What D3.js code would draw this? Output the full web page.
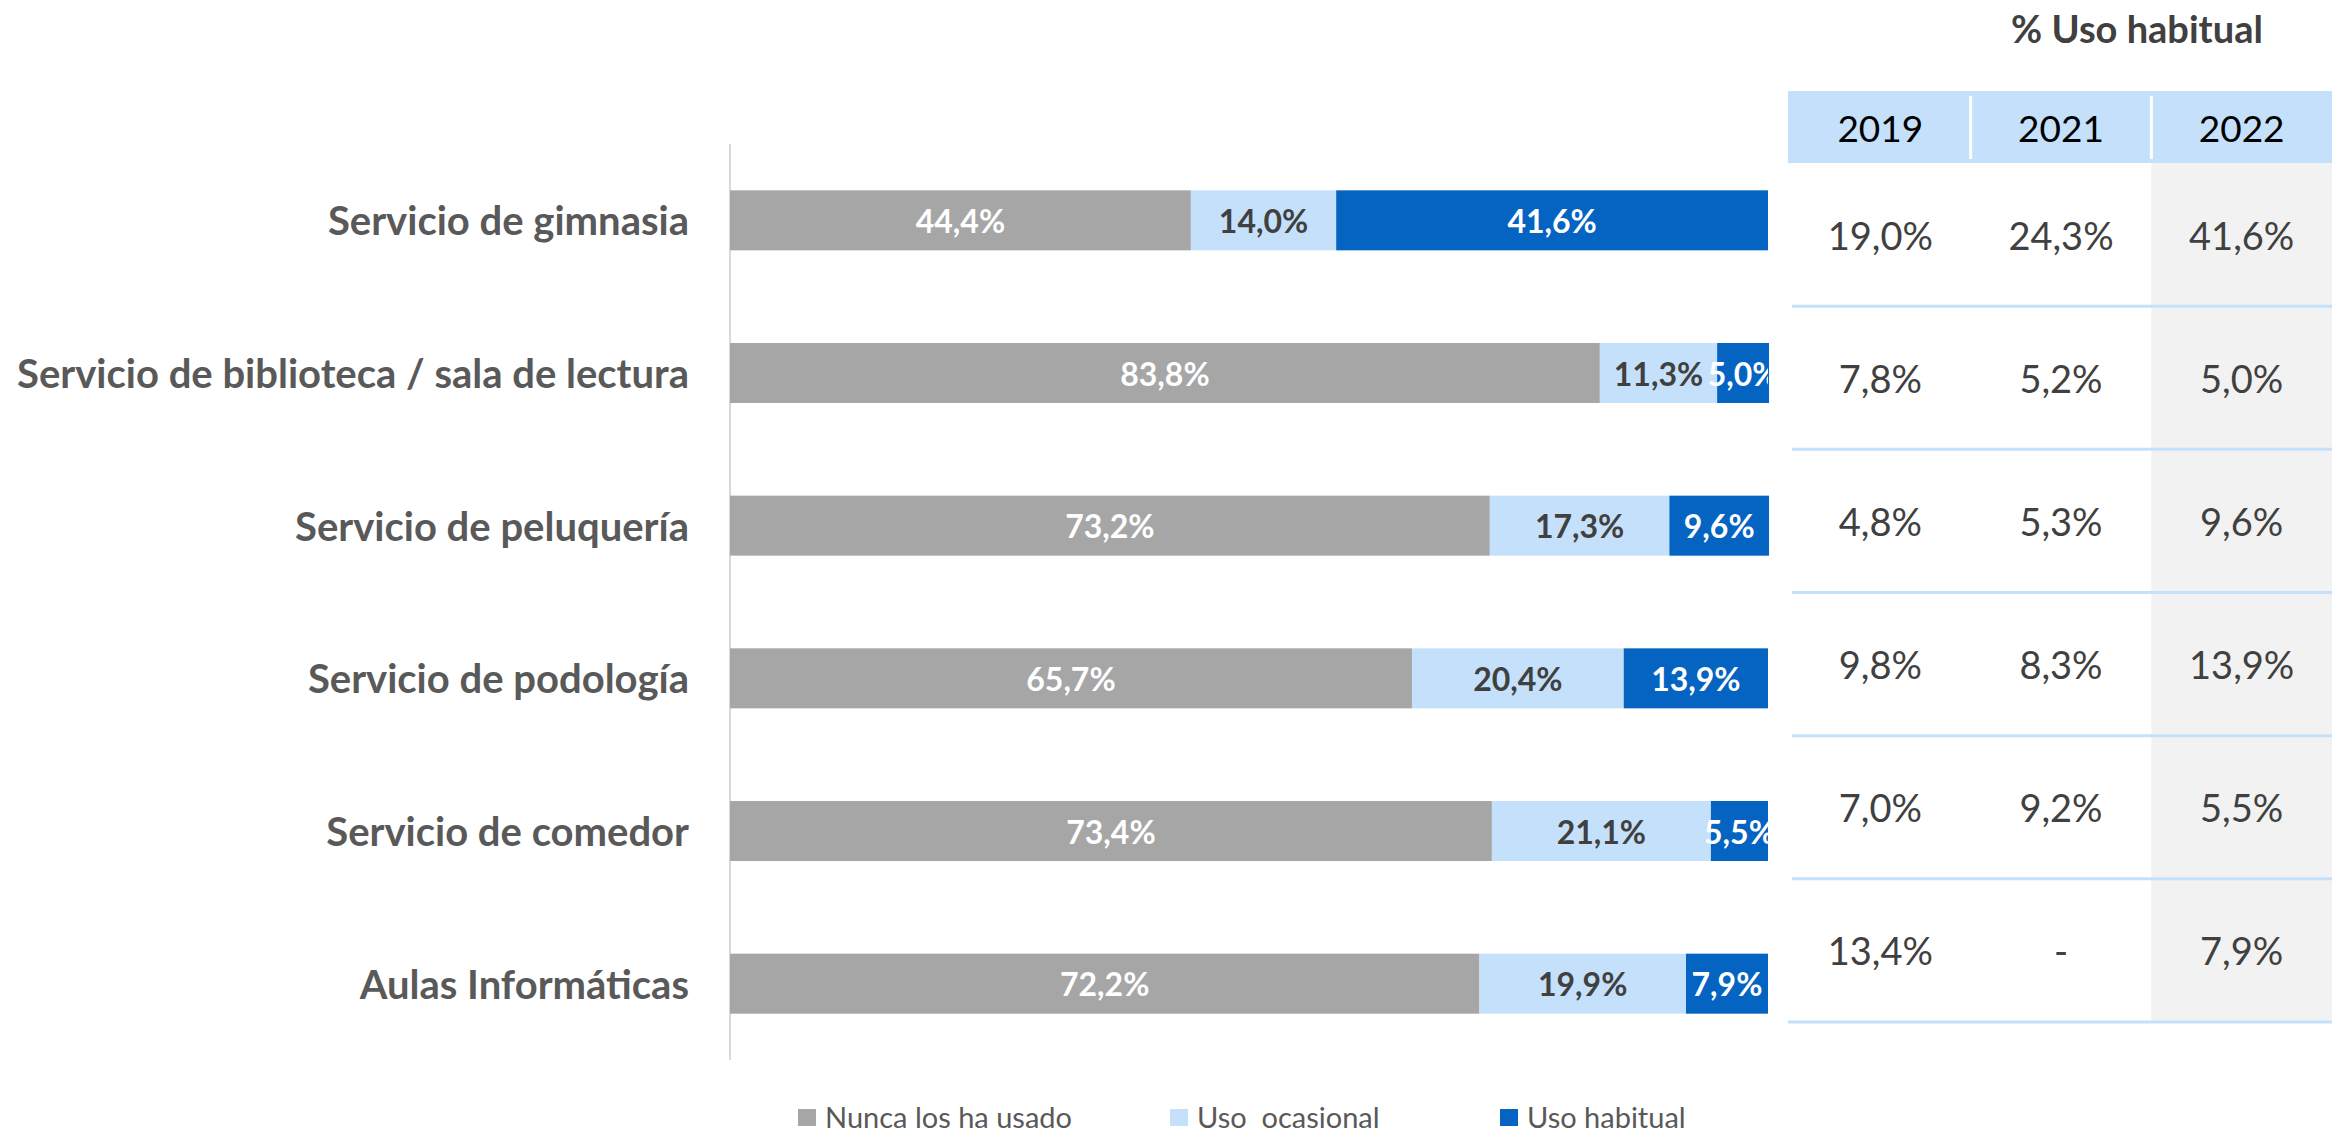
<!DOCTYPE html>
<html lang="es">
<head>
    <meta charset="UTF-8">
    <title>Uso de servicios</title>
    <script src="https://cdn.jsdelivr.net/npm/d3@7"></script>
    <style>
        body { margin: 0; background: #fff; }
        text { font-family: Lato, "Open Sans", sans-serif; }
    </style>
</head>
<body>
    <div id="grafico"></div>

    <script>
        // datos
        const categorias = [
            "Servicio de gimnasia",
            "Servicio de biblioteca / sala de lectura",
            "Servicio de peluquería",
            "Servicio de podología",
            "Servicio de comedor",
            "Aulas Informáticas"
        ];
        const series = ["Nunca los ha usado", "Uso  ocasional", "Uso habitual"];
        const nunca = [44.4, 83.8, 73.2, 65.7, 73.4, 72.2];
        const ocasional = [14.0, 11.3, 17.3, 20.4, 21.1, 19.9];
        const habitual = [41.6, 5.0, 9.6, 13.9, 5.5, 7.9];

        const anios = ["2019", "2021", "2022"];
        const uso2019 = [19.0, 7.8, 4.8, 9.8, 7.0, 13.4];
        const uso2021 = [24.3, 5.2, 5.3, 8.3, 9.2, null];
        const uso2022 = habitual;

        const colores = ["#A6A6A6", "#C5E0FA", "#0563C1"];
        const coloresTexto = ["#ffffff", "#404040", "#ffffff"];

        const width = 2332, height = 1135;
        const fmt = d3.formatLocale({decimal: ",", thousands: ".", grouping: [3], currency: ["", "€"]}).format(".1f");
        const pct = v => v == null ? "-" : fmt(v) + "%";

        const svg = d3.select("#grafico").append("svg")
            .attr("width", width)
            .attr("height", height);

        // escalas de las barras
        const x = d3.scaleLinear().domain([0, 100]).range([730, 1768]);
        const y = d3.scaleBand().domain(categorias).range([144, 1060])
            .paddingInner(0.607).paddingOuter(0.3035);

        const filas = categorias.map((c, i) => ({cat: c, valores: [nunca[i], ocasional[i], habitual[i]]}));
        const segmentos = [];
        filas.forEach(f => {
            let acum = 0;
            f.valores.forEach((v, k) => {
                segmentos.push({cat: f.cat, serie: k, x0: acum, x1: acum + v, v: v});
                acum += v;
            });
        });

        svg.append("defs").append("clipPath").attr("id", "recorte")
            .append("rect")
            .attr("x", x(0)).attr("y", 0)
            .attr("width", x(100) - x(0)).attr("height", height);

        // eje vertical
        svg.append("line")
            .attr("x1", x(0)).attr("x2", x(0))
            .attr("y1", y.range()[0]).attr("y2", y.range()[1])
            .attr("stroke", "#D9D9D9")
            .attr("stroke-width", 2);

        svg.append("g").selectAll("rect")
            .data(segmentos)
            .join("rect")
            .attr("x", d => x(d.x0))
            .attr("y", d => y(d.cat))
            .attr("width", d => x(d.x1) - x(d.x0))
            .attr("height", y.bandwidth())
            .attr("fill", d => colores[d.serie]);

        svg.append("g").attr("clip-path", "url(#recorte)")
            .selectAll("text")
            .data(segmentos)
            .join("text")
            .attr("x", d => x((d.x0 + d.x1) / 2))
            .attr("y", d => y(d.cat) + y.bandwidth() / 2)
            .attr("text-anchor", "middle")
            .attr("dominant-baseline", "central")
            .attr("font-size", 32)
            .attr("font-weight", "bold")
            .attr("fill", d => coloresTexto[d.serie])
            .text(d => pct(d.v));

        // etiquetas de categoría
        svg.append("g").selectAll("text")
            .data(categorias)
            .join("text")
            .attr("x", 689)
            .attr("y", d => y(d) + y.bandwidth() / 2)
            .attr("text-anchor", "end")
            .attr("dominant-baseline", "central")
            .attr("font-size", 40)
            .attr("font-weight", "bold")
            .attr("fill", "#595959")
            .text(d => d);

        // tabla % uso habitual
        const col = d3.scaleBand().domain(anios).range([1790, 2332]);
        const fila = d3.scaleBand().domain(categorias).range([163, 1022]);
        const tabla = svg.append("g");

        tabla.append("rect")
            .attr("x", col("2022")).attr("y", fila.range()[0])
            .attr("width", col.bandwidth())
            .attr("height", fila.range()[1] - fila.range()[0])
            .attr("fill", "#F2F2F2");

        tabla.append("rect")
            .attr("x", 1788).attr("y", 91)
            .attr("width", width - 1788).attr("height", 163 - 91)
            .attr("fill", "#C5E0FA");

        tabla.selectAll(".sep")
            .data(anios.slice(1))
            .join("line")
            .attr("x1", d => col(d)).attr("x2", d => col(d))
            .attr("y1", 96).attr("y2", 159)
            .attr("stroke", "#ffffff")
            .attr("stroke-width", 3);

        tabla.selectAll(".anio")
            .data(anios)
            .join("text")
            .attr("x", d => col(d) + col.bandwidth() / 2)
            .attr("y", 127)
            .attr("text-anchor", "middle")
            .attr("dominant-baseline", "central")
            .attr("font-size", 37)
            .attr("fill", "#000000")
            .text(d => d);

        tabla.selectAll(".linea")
            .data(categorias)
            .join("line")
            .attr("x1", (d, i) => i === categorias.length - 1 ? 1788 : 1792)
            .attr("x2", width)
            .attr("y1", d => fila(d) + fila.bandwidth())
            .attr("y2", d => fila(d) + fila.bandwidth())
            .attr("stroke", "#C5E0FA")
            .attr("stroke-width", 3);

        const columnas = [uso2019, uso2021, uso2022];
        const celdas = [];
        categorias.forEach((c, i) => {
            anios.forEach((a, j) => celdas.push({cat: c, anio: a, v: columnas[j][i]}));
        });

        tabla.selectAll(".valor")
            .data(celdas)
            .join("text")
            .attr("x", d => col(d.anio) + col.bandwidth() / 2)
            .attr("y", d => fila(d.cat) + fila.bandwidth() / 2)
            .attr("text-anchor", "middle")
            .attr("dominant-baseline", "central")
            .attr("font-size", 38)
            .attr("fill", "#404040")
            .text(d => pct(d.v));

        svg.append("text")
            .attr("x", 2137).attr("y", 43)
            .attr("text-anchor", "middle")
            .attr("font-size", 38)
            .attr("font-weight", "bold")
            .attr("fill", "#404040")
            .text("% Uso habitual");

        // leyenda
        const leyendaX = [798, 1170, 1500];
        const leyenda = svg.append("g");
        series.forEach((s, k) => {
            leyenda.append("rect")
                .attr("x", leyendaX[k]).attr("y", 1109)
                .attr("width", 18).attr("height", 17)
                .attr("fill", colores[k]);
            leyenda.append("text")
                .attr("x", leyendaX[k] + 27).attr("y", 1116)
                .attr("dominant-baseline", "central")
                .attr("font-size", 29)
                .attr("fill", "#595959")
                .text(s.replace(/ /g, "\u00A0"));
        });
    </script>
</body>
</html>
